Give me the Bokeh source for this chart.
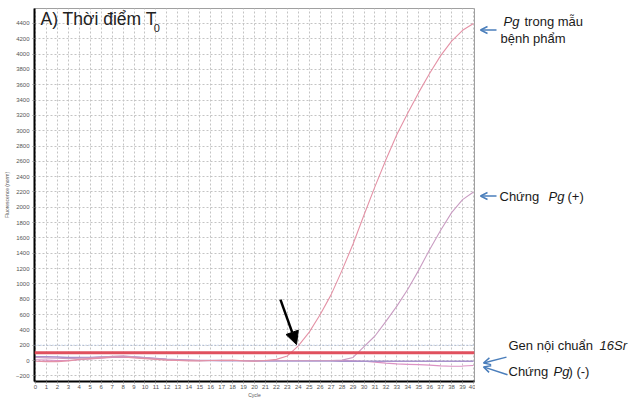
from bokeh.plotting import figure
from bokeh.models import (ColumnDataSource, Range1d, FixedTicker, Span, Label,
                          Arrow, NormalHead, OpenHead)
from bokeh.layouts import row
from bokeh.embed import file_html
from bokeh.resources import INLINE

cycles = list(range(0, 41))
sample_pg = [-10, -15, -15, -5, 15, 25, 35, 45, 45, 35, 25, 15, 5, 0, -5, -5, 0, 0, 5, -5,
             -10, 0, 15, 60, 190, 370, 600, 860, 1180, 1520, 1900, 2270, 2620, 2950, 3230,
             3500, 3750, 3980, 4170, 4310, 4400]
pos_ctrl = [40, 35, 30, 25, 30, 35, 45, 55, 60, 50, 40, 25, 15, 10, 5, 0, 0, 5, 0, 0,
            0, 0, 0, 0, 0, 0, 0, 0, 5, 40, 180, 320, 510, 710, 930, 1180, 1450, 1700, 1930,
            2100, 2200]
ctrl_16sr = [50, 48, 45, 40, 38, 40, 45, 50, 50, 45, 35, 25, 15, 10, 5, 0, 0, -2, -3, -4,
             -5, -5, -6, -6, -7, -8, -8, -8, -9, -10, -10, -10, -10, -10, -10, -10, -10, -10,
             -10, -10, -10]
neg_ctrl = [10, 5, 0, 0, 10, 20, 30, 40, 45, 40, 30, 20, 10, 5, 0, 0, 0, 0, 0, 0,
            0, 0, 0, 0, 0, 0, 0, 0, 0, -5, -10, -20, -35, -45, -50, -55, -60, -70, -75,
            -72, -65]
threshold = 100
y_ticks = list(range(-200, 4401, 200))
x_ticks = list(range(0, 41))

src = ColumnDataSource(dict(c=cycles, s=sample_pg, p=pos_ctrl, i=ctrl_16sr, n=neg_ctrl))

FONT = "Liberation Sans"
H = 400
TOP = 8
BOTTOM = 18
Y0, Y1 = -274, 4595
yr = Range1d(Y0, Y1)

p = figure(width=475, height=H, output_backend="svg", toolbar_location=None,
           x_range=Range1d(-0.09, 40.09), y_range=yr,
           min_border_left=34, min_border_right=1, min_border_top=TOP,
           min_border_bottom=BOTTOM,
           background_fill_color="white", border_fill_color="white")

p.outline_line_color = "#a0a0a0"
p.outline_line_width = 1

for ax in (p.xaxis[0], p.yaxis[0]):
    ax.axis_line_color = "black"
    ax.axis_line_width = 2
    ax.major_tick_line_color = "#888888"
    ax.major_tick_out = 2
    ax.major_tick_in = 0
    ax.minor_tick_line_color = None
    ax.major_label_text_font = FONT
    ax.major_label_text_font_size = "6px"
    ax.major_label_text_color = "#555555"
    ax.major_label_standoff = 1
    ax.axis_label_text_font = FONT
    ax.axis_label_text_font_size = "5px"
    ax.axis_label_text_font_style = "normal"
    ax.axis_label_text_color = "#555555"
    ax.axis_label_standoff = 0

p.yaxis.major_label_standoff = 3
p.yaxis.axis_label_standoff = 3
p.xaxis.ticker = FixedTicker(ticks=x_ticks)
p.yaxis.ticker = FixedTicker(ticks=y_ticks)
p.xaxis.axis_label = "Cycle"
p.yaxis.axis_label = "Fluorescence (norm)"

for g in (p.xgrid[0], p.ygrid[0]):
    g.grid_line_color = "#c4c4c4"
    g.grid_line_dash = "2 2"
    g.grid_line_width = 1
p.xgrid.ticker = FixedTicker(ticks=x_ticks)
p.ygrid.ticker = FixedTicker(ticks=y_ticks)

p.add_layout(Span(location=200, dimension="width", line_color="#9fb6e0",
                  line_dash="1 2", line_width=1))

p.line("c", "n", source=src, line_color="#dc92c4", line_width=1.2)
p.line("c", "i", source=src, line_color="#a892cc", line_width=1.5)
p.line("c", "p", source=src, line_color="#c99cc2", line_width=1.1)
p.line("c", "s", source=src, line_color="#e492a6", line_width=1.1)

p.add_layout(Span(location=threshold, dimension="width", line_color="#e0505e",
                  line_width=3))

# title inside the plot
p.add_layout(Label(x=0.46, y=4452, text="A) Thời điểm T", text_font=FONT,
                   text_font_size="17.5px", text_color="#222222", text_baseline="middle"))
p.add_layout(Label(x=10.8, y=4345, text="0", text_font=FONT,
                   text_font_size="11px", text_color="#222222", text_baseline="middle"))

# black arrow to the Ct
p.add_layout(Arrow(x_start=22.37, y_start=794, x_end=23.84, y_end=208,
                   line_color="black", line_width=2.5,
                   end=NormalHead(size=13, fill_color="black", line_color="black")))

# right-side annotation panel: x in page pixels, y on the same scale as the chart
units_per_px = (Y1 - Y0) / (H - TOP - BOTTOM)
q = figure(width=160, height=H, output_backend="svg", toolbar_location=None,
           x_range=Range1d(475, 635), y_range=Range1d(Y0, Y1 + TOP * units_per_px),
           min_border_left=0, min_border_right=0, min_border_top=0,
           min_border_bottom=BOTTOM, background_fill_color="white",
           border_fill_color="white")
q.axis.visible = False
q.grid.visible = False
q.outline_line_color = None

blue = "#4a7ebb"
def txt(x, y, s, italic=False):
    q.add_layout(Label(x=x, y=y, text=s, text_font=FONT, text_font_size="13px",
                       text_font_style="italic" if italic else "normal",
                       text_color="#1a1a1a", text_baseline="middle"))

def barrow(x0, y0, x1, y1):
    q.add_layout(Arrow(x_start=x0, y_start=y0, x_end=x1, y_end=y1,
                       line_color=blue, line_width=1.5,
                       end=OpenHead(size=7, line_color=blue, line_width=1.5)))

txt(503, 4530, "Pg", italic=True)
txt(524, 4530, "trong mẫu")
txt(500, 4296, "bệnh phẩm")
barrow(496, 4413, 480, 4413)

txt(499, 2199, "Chứng")
txt(548, 2199, "Pg", italic=True)
txt(567, 2199, "(+)")
barrow(496, 2199, 480, 2199)

txt(508, 208, "Gen nội chuẩn")
txt(599, 208, "16Sr", italic=True)
barrow(506, 51, 483, -27)

txt(508, -146, "Chứng")
txt(553, -146, "Pg", italic=True)
txt(568, -146, ") (-)")
barrow(507, -183, 483, -79)

layout = row(p, q)
open("out.html", "w").write(file_html(layout, INLINE))
